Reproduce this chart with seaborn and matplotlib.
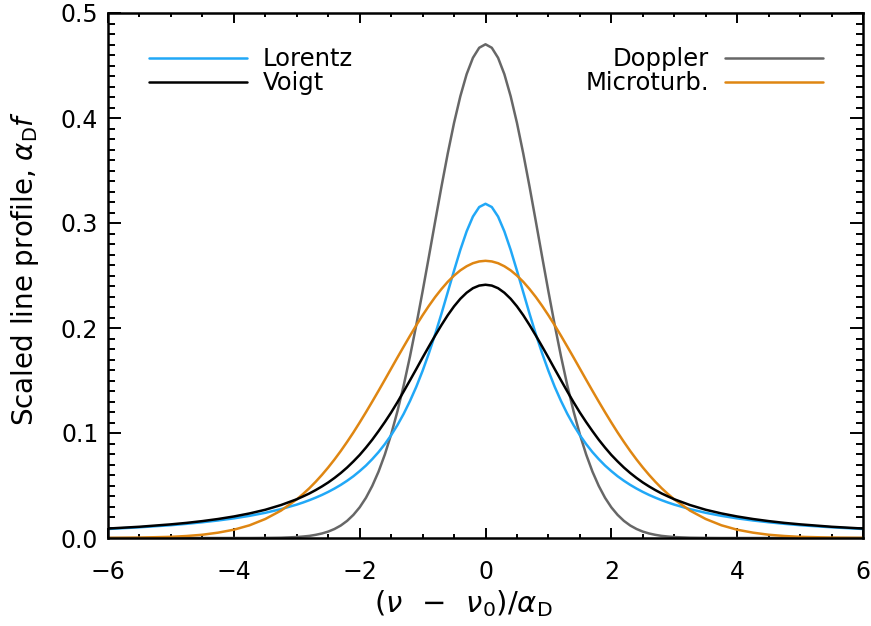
import numpy as np
import pandas as pd
import seaborn as sns
import matplotlib.pyplot as plt
from matplotlib.ticker import MultipleLocator, FormatStrFormatter

# offsets from line centre, (nu - nu0)/alpha_D
x_vals = [-6.0, -5.5, -5.0, -4.75, -4.5, -4.25, -4.0, -3.75, -3.5, -3.25,
          -3.0, -2.9, -2.8, -2.7, -2.6, -2.5, -2.4, -2.3, -2.2, -2.1,
          -2.0, -1.9, -1.8, -1.7, -1.6, -1.5, -1.4, -1.3, -1.2, -1.1,
          -1.0, -0.9, -0.8, -0.7, -0.6, -0.5, -0.4, -0.3, -0.2, -0.1,
          0.0,
          0.1, 0.2, 0.3, 0.4, 0.5, 0.6, 0.7, 0.8, 0.9, 1.0,
          1.1, 1.2, 1.3, 1.4, 1.5, 1.6, 1.7, 1.8, 1.9, 2.0,
          2.1, 2.2, 2.3, 2.4, 2.5, 2.6, 2.7, 2.8, 2.9, 3.0,
          3.25, 3.5, 3.75, 4.0, 4.25, 4.5, 4.75, 5.0, 5.5, 6.0]

lorentz = [0.0086, 0.0102, 0.0122, 0.0135, 0.0150, 0.0167, 0.0187, 0.0211, 0.0240, 0.0275,
           0.0318, 0.0338, 0.0360, 0.0384, 0.0410, 0.0439, 0.0471, 0.0506, 0.0545, 0.0588,
           0.0637, 0.0690, 0.0751, 0.0818, 0.0894, 0.0979, 0.1075, 0.1183, 0.1305, 0.1440,
           0.1592, 0.1759, 0.1941, 0.2136, 0.2341, 0.2546, 0.2744, 0.2920, 0.3061, 0.3152,
           0.3183,
           0.3152, 0.3061, 0.2920, 0.2744, 0.2546, 0.2341, 0.2136, 0.1941, 0.1759, 0.1592,
           0.1440, 0.1305, 0.1183, 0.1075, 0.0979, 0.0894, 0.0818, 0.0751, 0.0690, 0.0637,
           0.0588, 0.0545, 0.0506, 0.0471, 0.0439, 0.0410, 0.0384, 0.0360, 0.0338, 0.0318,
           0.0275, 0.0240, 0.0211, 0.0187, 0.0167, 0.0150, 0.0135, 0.0122, 0.0102, 0.0086]

voigt = [0.0090, 0.0107, 0.0130, 0.0144, 0.0161, 0.0181, 0.0205, 0.0234, 0.0269, 0.0314,
         0.0369, 0.0396, 0.0424, 0.0456, 0.0491, 0.0529, 0.0572, 0.0619, 0.0671, 0.0729,
         0.0791, 0.0861, 0.0936, 0.1018, 0.1104, 0.1195, 0.1293, 0.1396, 0.1502, 0.1609,
         0.1718, 0.1824, 0.1928, 0.2028, 0.2122, 0.2206, 0.2278, 0.2336, 0.2379, 0.2404,
         0.2412,
         0.2404, 0.2379, 0.2336, 0.2278, 0.2206, 0.2122, 0.2028, 0.1928, 0.1824, 0.1718,
         0.1609, 0.1502, 0.1396, 0.1293, 0.1195, 0.1104, 0.1018, 0.0936, 0.0861, 0.0791,
         0.0729, 0.0671, 0.0619, 0.0572, 0.0529, 0.0491, 0.0456, 0.0424, 0.0396, 0.0369,
         0.0314, 0.0269, 0.0234, 0.0205, 0.0181, 0.0161, 0.0144, 0.0130, 0.0107, 0.0090]

doppler = [0.0000, 0.0000, 0.0000, 0.0000, 0.0000, 0.0000, 0.0000, 0.0000, 0.0001, 0.0003,
           0.0009, 0.0014, 0.0020, 0.0030, 0.0043, 0.0061, 0.0086, 0.0119, 0.0163, 0.0220,
           0.0292, 0.0383, 0.0496, 0.0632, 0.0795, 0.0986, 0.1206, 0.1454, 0.1730, 0.2029,
           0.2348, 0.2679, 0.3015, 0.3346, 0.3662, 0.3953, 0.4207, 0.4417, 0.4573, 0.4669,
           0.4702,
           0.4669, 0.4573, 0.4417, 0.4207, 0.3953, 0.3662, 0.3346, 0.3015, 0.2679, 0.2348,
           0.2029, 0.1730, 0.1454, 0.1206, 0.0986, 0.0795, 0.0632, 0.0496, 0.0383, 0.0292,
           0.0220, 0.0163, 0.0119, 0.0086, 0.0061, 0.0043, 0.0030, 0.0020, 0.0014, 0.0009,
           0.0003, 0.0001, 0.0000, 0.0000, 0.0000, 0.0000, 0.0000, 0.0000, 0.0000, 0.0000]

microturb = [0.0001, 0.0004, 0.0011, 0.0019, 0.0031, 0.0051, 0.0079, 0.0121, 0.0181, 0.0261,
             0.0368, 0.0419, 0.0474, 0.0535, 0.0601, 0.0672, 0.0748, 0.0829, 0.0915, 0.1005,
             0.1100, 0.1198, 0.1299, 0.1402, 0.1507, 0.1613, 0.1719, 0.1823, 0.1926, 0.2026,
             0.2121, 0.2211, 0.2295, 0.2371, 0.2440, 0.2499, 0.2549, 0.2588, 0.2617, 0.2634,
             0.2640,
             0.2634, 0.2617, 0.2588, 0.2549, 0.2499, 0.2440, 0.2371, 0.2295, 0.2211, 0.2121,
             0.2026, 0.1926, 0.1823, 0.1719, 0.1613, 0.1507, 0.1402, 0.1299, 0.1198, 0.1100,
             0.1005, 0.0915, 0.0829, 0.0748, 0.0672, 0.0601, 0.0535, 0.0474, 0.0419, 0.0368,
             0.0261, 0.0181, 0.0121, 0.0079, 0.0051, 0.0031, 0.0019, 0.0011, 0.0004, 0.0001]

colors = {'Doppler': '#676767', 'Lorentz': '#21a8f7', 'Microturb.': '#df8612', 'Voigt': '#000000'}

df = pd.DataFrame({'x': x_vals, 'Doppler': doppler, 'Lorentz': lorentz,
                   'Microturb.': microturb, 'Voigt': voigt})
long_df = df.melt(id_vars='x', var_name='profile', value_name='f')

sns.set_theme(style='ticks')
plt.rcParams['font.family'] = ['DejaVu Sans']
plt.rcParams['mathtext.fontset'] = 'dejavusans'
plt.rcParams['text.color'] = 'black'
plt.rcParams['axes.labelcolor'] = 'black'

fig = plt.figure(figsize=(8.71, 6.26), dpi=100)
ax = fig.add_axes([108 / 871, 88 / 626, 755 / 871, 525 / 626])

for name in ['Doppler', 'Lorentz', 'Microturb.', 'Voigt']:
    sns.lineplot(data=long_df[long_df['profile'] == name], x='x', y='f', color=colors[name],
                 lw=1.8, ax=ax, label=name, errorbar=None, sort=False,
                 solid_joinstyle='round')

ax.set_xlim(-6, 6)
ax.set_ylim(0, 0.5)
ax.xaxis.set_major_locator(MultipleLocator(2))
ax.xaxis.set_minor_locator(MultipleLocator(0.5))
ax.yaxis.set_major_locator(MultipleLocator(0.1))
ax.yaxis.set_minor_locator(MultipleLocator(0.01))
ax.yaxis.set_major_formatter(FormatStrFormatter('%.1f'))

ax.tick_params(axis='both', which='both', direction='in', top=True, right=True,
               width=1.4, color='black', labelsize=17, labelcolor='black')
ax.tick_params(axis='x', which='major', length=7, pad=16)
ax.tick_params(axis='x', which='minor', length=3.2)
ax.tick_params(axis='y', which='major', length=9.5, pad=7)
ax.tick_params(axis='y', which='minor', length=4.8)
for s in ax.spines.values():
    s.set_linewidth(1.8)
    s.set_color('black')

ax.set_xlabel(r'$(\nu\ \,-\ \,\nu_{\mathrm{0}})/\alpha_{\mathrm{D}}$', fontsize=21)
ax.xaxis.set_label_coords(0.47, -0.095)
ax.set_ylabel(r'Scaled line profile, $\alpha_{\mathrm{D}}f$', fontsize=20)
ax.yaxis.set_label_coords(-0.089, 0.514)

h = {l.get_label(): l for l in ax.get_lines()}
leg_kw = dict(frameon=False, handlelength=4.03, handletextpad=0.66, labelspacing=0.0,
              borderpad=0, borderaxespad=0, fontsize=17.5)
leg1 = ax.legend([h['Lorentz'], h['Voigt']], ['Lorentz', 'Voigt'], loc='upper left',
                 bbox_to_anchor=(0.054, 0.9345), **leg_kw)
ax.add_artist(leg1)
ax.legend([h['Doppler'], h['Microturb.']], ['Doppler', 'Microturb.'], loc='upper right',
          bbox_to_anchor=(0.947, 0.9345), markerfirst=False, **leg_kw)

fig.savefig('out.png', dpi=100)
